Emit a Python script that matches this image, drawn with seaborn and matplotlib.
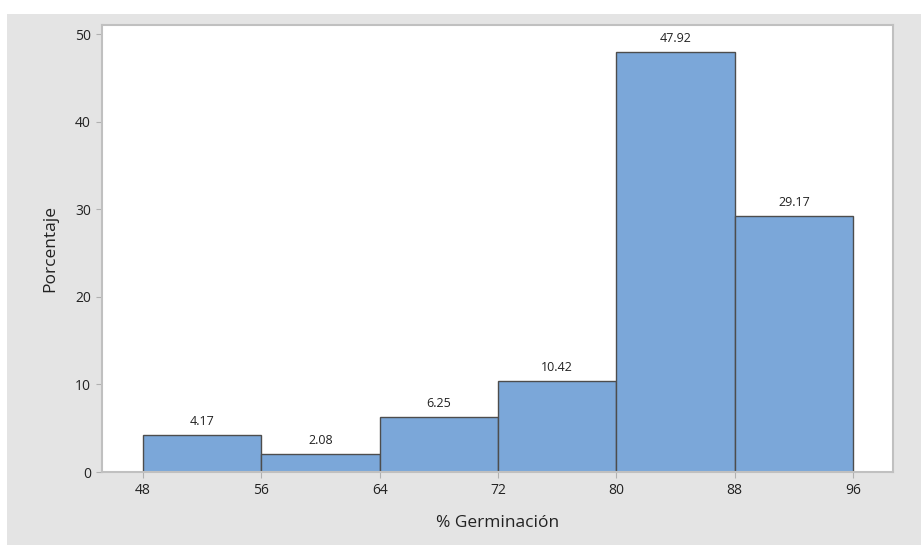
import matplotlib.pyplot as plt
from matplotlib.patches import Rectangle
import seaborn as sns

# Histogram of germination percentage
bin_edges = [48, 56, 64, 72, 80, 88, 96]
percentages = [4.17, 2.08, 6.25, 10.42, 47.92, 29.17]
y_ticks = [0, 10, 20, 30, 40, 50]

sns.set_theme(style="white")
plt.rcParams["font.family"] = ["Open Sans", "DejaVu Sans"]

fig = plt.figure(figsize=(9.21, 5.45), dpi=100)
fig.patch.set_facecolor("white")
fig.patches.append(Rectangle((7 / 921, 0), 1 - 7 / 921, 1 - 14 / 545,
                             transform=fig.transFigure, facecolor="#e4e4e4",
                             edgecolor="none", zorder=-5))
ax = fig.add_axes([102 / 921, 73 / 545, 791 / 921, 447 / 545])
ax.set_facecolor("white")

centers = [(a + b) / 2 for a, b in zip(bin_edges[:-1], bin_edges[1:])]
sns.histplot(x=centers, weights=percentages, bins=bin_edges, ax=ax,
             color="#7ba7d9", alpha=1, edgecolor="#4d4d4d", linewidth=1.0)

for c, p in zip(centers, percentages):
    ax.text(c, p + 0.8, f"{p:.2f}", ha="center", va="bottom", fontsize=9,
            color="#222222")

ax.set_xlim(45.23, 98.7)
ax.set_ylim(0, 51.03)
ax.set_xticks(bin_edges)
ax.set_yticks(y_ticks)
ax.tick_params(axis="both", length=4, width=0.8, color="#b0b0b0",
               labelsize=10, labelcolor="#222222", bottom=True, left=True, pad=4)
for s in ax.spines.values():
    s.set_color("#c0c0c0")
    s.set_linewidth(1.5)
ax.set_xlabel("% Germinación", fontsize=12.5, color="#222222", labelpad=12)
ax.set_ylabel("Porcentaje", fontsize=12.5, color="#222222", labelpad=12)

fig.savefig("out.png", dpi=100)
